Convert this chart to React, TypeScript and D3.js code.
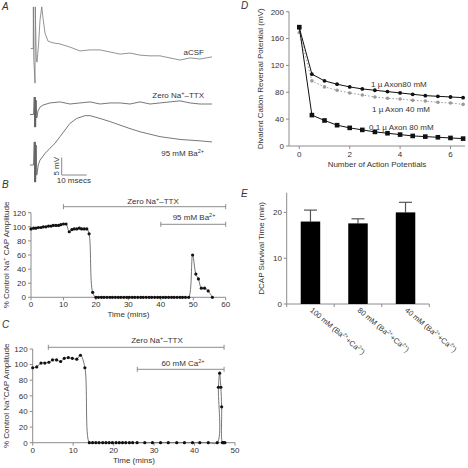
import React from 'react';
import * as d3 from 'd3';

// ---------- Panel A: traces (time in ms, voltage in mV relative to each trace's baseline)
const traceAcsf: [number, number][] = [
  [-0.9, 0], [0.1, 0], [0.15, 11.9], [0.3, -2.7], [0.8, -9.9], [0.9, 11.9], [1.3, -2.7], [1.6, -3.9],
  [2.2, 1.0], [2.8, 8.1], [3.5, 11.9], [4.0, 8.7], [4.8, 4.4], [6.0, 2.1], [8.0, 1.6], [10.8, 1.3],
  [14.8, 0.4], [18.8, -0.7], [22.8, -0.4], [26.8, -0.4], [30.8, -1.0], [34.8, -1.6], [38.8, -1.3],
  [42.8, -1.9], [46.8, -2.1], [50.8, -2.1], [54.8, -2.7], [58.8, -3.3], [62.8, -2.7], [66.8, -3.0], [71.6, -2.4],
];
const traceZero: [number, number][] = [
  [-1.2, -3.0], [0.2, -3.0], [0.5, 2.0], [0.65, -6.6], [0.9, 2.0], [1.05, -6.6], [1.25, 1.1], [1.5, -4.0],
  [2.0, -2.0], [2.8, -0.9], [4.0, -0.3], [6.8, 0.3], [10.8, 0.6], [14.8, 0], [18.8, 0.3], [22.8, 0.6],
  [26.8, 0], [30.8, 0.3], [34.8, 0.3], [38.8, 0], [42.8, 0.6], [46.8, 0], [50.8, 0.3], [54.8, 0.6],
  [58.8, 0.9], [62.8, 0.3], [66.8, 0], [71.6, 0],
];
const traceBa: [number, number][] = [
  [-1.2, 0], [0.2, 0], [0.5, 6.6], [0.65, -4.9], [0.9, 6.6], [1.05, -4.9], [1.25, 5.7], [1.5, -2.9],
  [2.1, 0], [2.8, 1.4], [4.8, 3.3], [6.8, 4.8], [8.8, 6.2], [10.8, 8.1], [12.8, 10.0], [14.8, 11.9],
  [17.5, 13.3], [20.8, 14.1], [22.8, 14.1], [26.8, 13.3], [30.8, 12.4], [34.8, 11.4], [38.8, 10.4],
  [42.8, 9.5], [50.8, 8.1], [58.8, 7.3], [66.8, 6.9], [71.6, 6.6],
];
const scaleBarMs = 10;
const scaleBarMv = 5;

// ---------- Panel B
const bTime = [0, 0.8, 1.5, 2.3, 3.1, 3.8, 4.6, 5.4, 6.2, 6.9, 7.7, 8.5, 9.2, 10.0, 10.8, 11.8, 12.6, 13.3, 14.1,
  14.9, 15.6, 16.4, 17.2, 17.9, 19.0, 20.0, 20.8, 21.7, 22.5, 23.4, 24.3, 25.1, 26.0, 26.9, 27.7, 28.6, 29.5,
  30.3, 31.2, 32.0, 32.9, 33.8, 34.6, 35.5, 36.4, 37.2, 38.1, 39.0, 39.8, 40.7, 41.5, 42.4, 43.3, 44.1, 45.0,
  45.9, 46.7, 47.6, 48.6, 49.8, 50.8, 51.6, 52.5, 53.5, 54.6, 55.9];
const bAmp = [97, 98, 98, 99, 99, 100, 100, 101, 101, 102, 102, 102, 103, 104, 104, 93, 96, 97, 97,
  98, 97, 97, 97, 90, 7, 0, 0, 0, 0, 0, 0, 0, 0, 0, 0, 0, 0,
  0, 0, 0, 0, 0, 0, 0, 0, 0, 0, 0, 0, 0, 0, 0, 0, 0, 0,
  0, 0, 0, 0, 60, 33, 26, 13, 13, 9, 0];
const bXTicks = [0, 10, 20, 30, 40, 50, 60];
const bYTicks = [0, 20, 40, 60, 80, 100, 120];
const bZeroNaRange = [10, 60];
const bBaRange = [40, 60];

// ---------- Panel C
const cTime = [0, 1.0, 2.05, 3.0, 4.0, 4.9, 5.9, 6.9, 7.8, 8.8, 9.8, 10.9, 11.8, 12.9, 14.0, 14.8, 15.6, 16.4,
  17.3, 18.1, 18.9, 19.7, 20.6, 21.4, 22.2, 23.0, 23.9, 24.7, 25.8, 27.7, 29.6, 31.6, 33.5, 35.6, 37.5, 39.5,
  41.3, 43.4, 45.6, 45.9, 46.2, 46.5, 46.7, 46.9, 47.2, 47.5];
const cAmp = [96, 97, 102, 102, 103, 106, 106, 104, 108, 109, 108, 107, 112, 96, 0, 0, 0, 0,
  0, 0, 0, 0, 0, 0, 0, 0, 0, 0, 0, 0, 0, 0, 0, 0, 0, 0,
  0, 0, 0, 71, 89, 71, 46, 0, 0, 0];
const cXTicks = [0, 10, 20, 30, 40, 50];
const cYTicks = [0, 20, 40, 60, 80, 100, 120];
const cZeroNaRange = [3.86, 47.3];
const cCaRange = [25.85, 47.3];

// ---------- Panel D
const dAP = [0, 0.5, 1, 1.5, 2, 2.5, 3, 3.5, 4, 4.5, 5, 5.5, 6, 6.5];
const dAxon80 = [176, 107, 97, 92, 88, 85, 83, 81, 79, 77, 75, 74, 73, 72];
const dAxon40 = [169, 97, 88, 83, 79, 76, 73, 71, 70, 68, 67, 65, 64, 62];
const dAxonSmall80 = [177, 46, 38, 31, 27, 24, 21, 19, 17, 15, 14, 13, 12, 11];
const dXTicks = [0, 2, 4, 6];
const dYTicks = [0, 40, 80, 120, 160, 200];

// ---------- Panel E
const eCats = ['100 mM', '80 mM', '40 mM'];
const eMeans = [18.0, 17.6, 20.0];
const eErrTop = [20.5, 18.6, 22.2];
const eYTicks = [0, 10, 20];

const FONT = 'Liberation Sans, Arial, Helvetica, sans-serif';
const AX = '#8c8c8c';
const TXT = '#333';

const Sup = ({ t, fs = 5.5 }: { t: string; fs?: number }) => (
  <tspan baselineShift="super" fontSize={fs}>{t}</tspan>
);

function Bracket({ x1, x2, y }: { x1: number; x2: number; y: number }) {
  return (
    <g stroke={AX} strokeWidth={1}>
      <line x1={x1} x2={x2} y1={y} y2={y} />
      <line x1={x1} x2={x1} y1={y - 2.5} y2={y + 2.5} />
      <line x1={x2} x2={x2} y1={y - 2.5} y2={y + 2.5} />
    </g>
  );
}

function TimePanel({ time, amp, x, y, xTicks, yTicks, ylabel }: any) {
  const pts = time.map((t: number, i: number) => [t, amp[i]] as [number, number]);
  const line = d3.line<[number, number]>().x(d => x(d[0])).y(d => y(d[1])).curve(d3.curveCatmullRom.alpha(0.5));
  const [x0, x1] = x.range();
  const [y0, y1] = y.range();
  return (
    <g>
      <line x1={x0} x2={x0} y1={y0} y2={y1} stroke={AX} />
      <line x1={x0} x2={x1} y1={y0} y2={y0} stroke={AX} />
      {yTicks.map((v: number) => (
        <g key={'y' + v}>
          <line x1={x0 - 3} x2={x0} y1={y(v)} y2={y(v)} stroke={AX} />
          <text x={x0 - 5} y={y(v) + 2.8} textAnchor="end" fontSize={8} fill={TXT}>{v}</text>
        </g>
      ))}
      {xTicks.map((v: number) => (
        <g key={'x' + v}>
          <line x1={x(v)} x2={x(v)} y1={y0} y2={y0 + 3} stroke={AX} />
          <text x={x(v)} y={y0 + 10} textAnchor="middle" fontSize={8} fill={TXT}>{v}</text>
        </g>
      ))}
      <text x={(x0 + x1) / 2} y={y0 + 20} textAnchor="middle" fontSize={8} fill={TXT}>Time (mins)</text>
      <text transform={`translate(9,${(y0 + y1) / 2}) rotate(-90)`} textAnchor="middle" fontSize={8} fill={TXT}>{ylabel}</text>
      <path d={line(pts) || ''} fill="none" stroke="#666" strokeWidth={0.9} />
      {pts.map((p: [number, number], i: number) => (
        <circle key={i} cx={x(p[0])} cy={y(p[1])} r={1.6} fill="#111" />
      ))}
    </g>
  );
}

export default function App() {
  // Panel A scales
  const xA = d3.scaleLinear().domain([0, 72]).range([33, 213]);
  const mvPx = 3.5;
  const yTrace = (base: number) => d3.scaleLinear().domain([0, 10]).range([base, base - 10 * mvPx]);
  const yAcsf = yTrace(48.5);
  const yZero = yTrace(104);
  const yBa = yTrace(165);
  const traceLine = (ys: d3.ScaleLinear<number, number>) =>
    d3.line<[number, number]>().x(d => xA(d[0])).y(d => ys(d[1]));
  const sbX = 61.7, sbY = 175;
  const sbW = xA(scaleBarMs) - xA(0);
  const sbH = yAcsf(0) - yAcsf(scaleBarMv);

  // Panel B
  const xB = d3.scaleLinear().domain([0, 60]).range([31, 225.7]);
  const yB = d3.scaleLinear().domain([0, 120]).range([297.3, 212.7]);
  // Panel C
  const xC = d3.scaleLinear().domain([0, 50]).range([32.7, 235]);
  const yC = d3.scaleLinear().domain([0, 120]).range([442.7, 349]);

  // Panel D
  const xD = d3.scaleLinear().domain([0, 6]).range([299.3, 450.5]);
  const yD = d3.scaleLinear().domain([0, 200]).range([146, 11.7]);
  const lineD = (vals: number[]) =>
    d3.line<number>().x((_, i) => xD(dAP[i])).y(v => yD(v))(vals) || '';

  // Panel E
  const xE = d3.scaleBand<string>().domain(eCats).range([286.7, 429.3]).paddingInner(0.59).paddingOuter(0.295);
  const yE = d3.scaleLinear().domain([0, 24.3]).range([304, 192.7]);
  const eStep = xE.step();

  return (
    <svg width={468} height={468} style={{ position: 'absolute', left: 0, top: 0, background: '#fff' }} fontFamily={FONT}>
      <rect width={468} height={468} fill="#fff" />
      {/* Panel labels */}
      {[['A', 2, 10], ['B', 2, 188], ['C', 2, 328], ['D', 241, 9], ['E', 241, 197]].map(([l, x, y]) => (
        <text key={l as string} x={x as number} y={y as number} fontSize={10} fontStyle="italic" fill={TXT}>{l}</text>
      ))}

      {/* ---- Panel A ---- */}
      <path d={traceLine(yAcsf)(traceAcsf) || ''} fill="none" stroke="#777" strokeWidth={0.8} />
      <path d={traceLine(yZero)(traceZero) || ''} fill="none" stroke="#555" strokeWidth={0.8} />
      <path d={traceLine(yBa)(traceBa) || ''} fill="none" stroke="#555" strokeWidth={0.8} />
      <text x={204} y={55} textAnchor="end" fontSize={8} fill={TXT}>aCSF</text>
      <text x={204} y={98} textAnchor="end" fontSize={8} fill={TXT}>
        Zero Na<Sup t="+" />–TTX
      </text>
      <text x={204} y={156} textAnchor="end" fontSize={8} fill={TXT}>
        95 mM Ba<Sup t="2+" />
      </text>
      <g stroke="#888" strokeWidth={1}>
        <line x1={sbX} x2={sbX} y1={sbY} y2={sbY - sbH} />
        <line x1={sbX} x2={sbX + sbW} y1={sbY} y2={sbY} />
      </g>
      <text transform={`translate(59,${sbY - sbH / 2}) rotate(-90)`} textAnchor="middle" fontSize={8} fill={TXT}>5 mV</text>
      <text x={sbX - 5} y={sbY + 8} fontSize={8} fill={TXT}>10 msecs</text>

      {/* ---- Panel B ---- */}
      <TimePanel time={bTime} amp={bAmp} x={xB} y={yB} xTicks={bXTicks} yTicks={bYTicks}
        ylabel={<>% Control Na<Sup t="+" /> CAP Amplitude</>} />
      <Bracket x1={xB(bZeroNaRange[0])} x2={xB(bZeroNaRange[1])} y={206.7} />
      <text x={153} y={203.5} textAnchor="middle" fontSize={8} fill={TXT}>Zero Na<Sup t="+" />–TTX</text>
      <Bracket x1={xB(bBaRange[0])} x2={xB(bBaRange[1])} y={224.3} />
      <text x={194} y={220} textAnchor="middle" fontSize={8} fill={TXT}>95 mM Ba<Sup t="2+" /></text>

      {/* ---- Panel C ---- */}
      <TimePanel time={cTime} amp={cAmp} x={xC} y={yC} xTicks={cXTicks} yTicks={cYTicks}
        ylabel={<>% Control Na<Sup t="+" />CAP Amplitude</>} />
      <Bracket x1={xC(cZeroNaRange[0])} x2={xC(cZeroNaRange[1])} y={347.3} />
      <text x={157} y={343.3} textAnchor="middle" fontSize={8} fill={TXT}>Zero Na<Sup t="+" />–TTX</text>
      <Bracket x1={xC(cCaRange[0])} x2={xC(cCaRange[1])} y={369.3} />
      <text x={183} y={366} textAnchor="middle" fontSize={8} fill={TXT}>60 mM Ca<Sup t="2+" /></text>

      {/* ---- Panel D ---- */}
      <line x1={289} x2={289} y1={yD(0)} y2={yD(200)} stroke={AX} />
      <line x1={289} x2={465} y1={yD(0)} y2={yD(0)} stroke={AX} />
      {dYTicks.map(v => (
        <g key={'dy' + v}>
          <line x1={286} x2={289} y1={yD(v)} y2={yD(v)} stroke={AX} />
          <text x={284} y={yD(v) + 2.8} textAnchor="end" fontSize={8} fill={TXT}>{v}</text>
        </g>
      ))}
      {dXTicks.map(v => (
        <g key={'dx' + v}>
          <line x1={xD(v)} x2={xD(v)} y1={yD(0)} y2={yD(0) + 3} stroke={AX} />
          <text x={xD(v)} y={yD(0) + 11} textAnchor="middle" fontSize={8} fill={TXT}>{v}</text>
        </g>
      ))}
      <text x={377} y={167} textAnchor="middle" fontSize={8} fill={TXT}>Number of Action Potentials</text>
      <text transform={`translate(263,${(yD(0) + yD(200)) / 2}) rotate(-90)`} textAnchor="middle" fontSize={8} fill={TXT}>
        Divalent Cation Reversal Potential (mV)
      </text>
      <path d={lineD(dAxon40)} fill="none" stroke="#999" strokeWidth={1} strokeDasharray="1.5,2" />
      {dAxon40.map((v, i) => <circle key={'g' + i} cx={xD(dAP[i])} cy={yD(v)} r={1.8} fill="#9a9a9a" />)}
      <path d={lineD(dAxon80)} fill="none" stroke="#111" strokeWidth={1} />
      {dAxon80.map((v, i) => <circle key={'c' + i} cx={xD(dAP[i])} cy={yD(v)} r={1.9} fill="#111" />)}
      <path d={lineD(dAxonSmall80)} fill="none" stroke="#111" strokeWidth={1} />
      {dAxonSmall80.map((v, i) => (
        <rect key={'s' + i} x={xD(dAP[i]) - 2.3} y={yD(v) - 2.3} width={4.6} height={4.6} fill="#111" />
      ))}
      <text x={371} y={87} fontSize={8} fill={TXT}>1 µ Axon80 mM</text>
      <text x={372} y={112} fontSize={8} fill={TXT}>1 µ Axon 40 mM</text>
      <text x={369} y={129.5} fontSize={8} fill={TXT}>0.1 µ Axon 80 mM</text>

      {/* ---- Panel E ---- */}
      <line x1={286.7} x2={286.7} y1={yE(0)} y2={yE(24.3)} stroke={AX} />
      <line x1={286.7} x2={429.3} y1={yE(0)} y2={yE(0)} stroke={AX} />
      {eYTicks.map(v => (
        <g key={'ey' + v}>
          <line x1={283.7} x2={286.7} y1={yE(v)} y2={yE(v)} stroke={AX} />
          <text x={282} y={yE(v) + 2.8} textAnchor="end" fontSize={8} fill={TXT}>{v}</text>
        </g>
      ))}
      {[0, 1, 2, 3].map(i => (
        <line key={'et' + i} x1={286.7 + i * eStep} x2={286.7 + i * eStep} y1={yE(0)} y2={yE(0) + 3} stroke={AX} />
      ))}
      <text transform={`translate(264,${(yE(0) + yE(24.3)) / 2}) rotate(-90)`} textAnchor="middle" fontSize={8} fill={TXT}>
        DCAP Survival Time (min)
      </text>
      {eCats.map((c, i) => {
        const cx = (xE(c) || 0) + xE.bandwidth() / 2;
        return (
          <g key={c}>
            <line x1={cx} x2={cx} y1={yE(eMeans[i])} y2={yE(eErrTop[i])} stroke="#555" strokeWidth={1.2} />
            <line x1={cx - 6.5} x2={cx + 6.5} y1={yE(eErrTop[i])} y2={yE(eErrTop[i])} stroke="#555" strokeWidth={1.2} />
            <rect x={xE(c)} y={yE(eMeans[i])} width={xE.bandwidth()} height={yE(0) - yE(eMeans[i])} fill="#000" />
            <text transform={`translate(${cx - 1},${yE(0) + 7}) rotate(40)`} fontSize={7.5} fill={TXT}>
              {c} (Ba<Sup t="2+" fs={5} />+Ca<Sup t="2+" fs={5} />)
            </text>
          </g>
        );
      })}
    </svg>
  );
}
